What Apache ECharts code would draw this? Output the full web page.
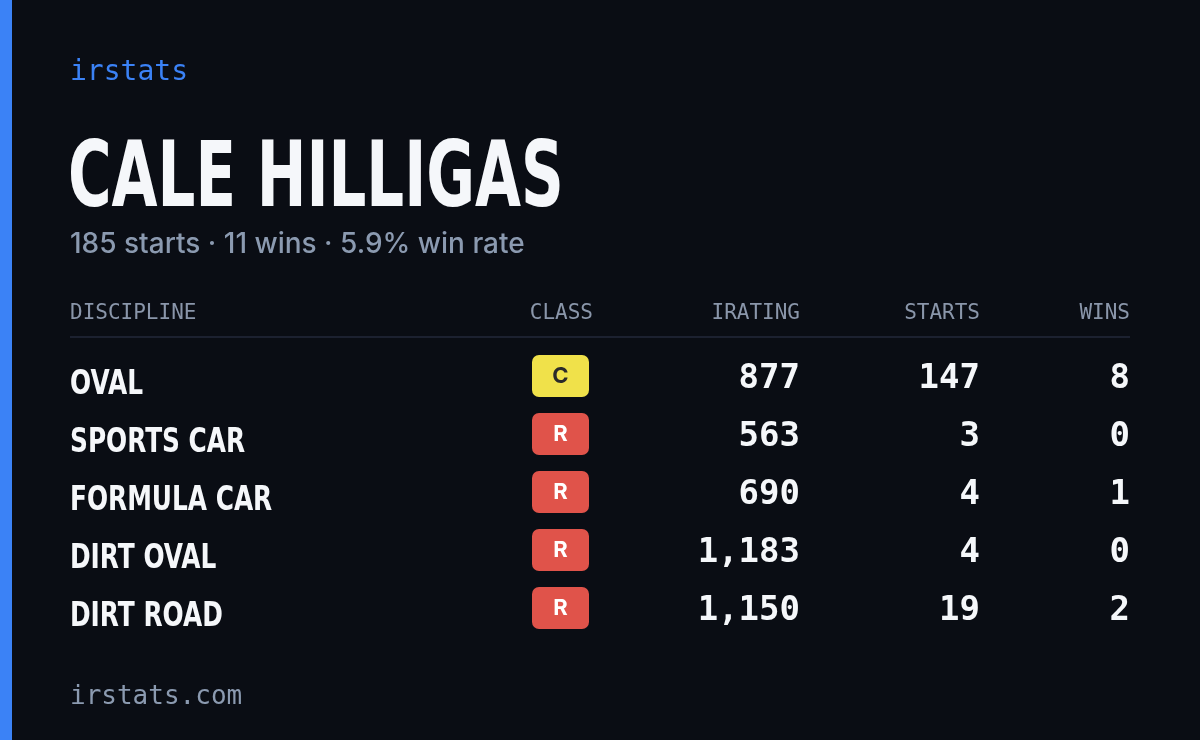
<!DOCTYPE html>
<html>
<head>
<meta charset="utf-8">
<script src="https://cdn.jsdelivr.net/npm/echarts@6/dist/echarts.min.js"></script>
<style>
  html, body { margin: 0; padding: 0; background: #0a0d14; }
  #main { width: 1200px; height: 740px; }
</style>
</head>
<body>
<div id="main"></div>
<script>
// 数据
var disciplines = ["OVAL", "SPORTS CAR", "FORMULA CAR", "DIRT OVAL", "DIRT ROAD"];
var classes = ["C", "R", "R", "R", "R"];
var iratings = [877, 563, 690, 1183, 1150];
var starts = [147, 3, 4, 4, 19];
var wins = [8, 0, 1, 0, 2];
var headers = ["DISCIPLINE", "CLASS", "IRATING", "STARTS", "WINS"];
// 生涯总计（含其它项目）
var totalStarts = 185;
var totalWins = 11;
var winRate = "5.9%";

var mono = "'DejaVu Sans Mono', monospace";
var sans = "'DejaVu Sans', sans-serif";
var classColor = { C: "#f0e14a", R: "#e0534a" };
var classText = { C: "#2a2a2a", R: "#ffffff" };

var subtitle = totalStarts + " starts · " + totalWins + " wins · " + winRate + " win rate";

var rows = [];
for (var i = 0; i < disciplines.length; i++) {
  rows.push([0, i]);
}

var myChart = echarts.init(document.getElementById("main"));

function renderRow(params, api) {
  var i = api.value(1);
  var y = api.coord([0, i])[1];
  var cls = classes[i];
  return {
    type: "group",
    children: [
      { type: "text", x: 70, y: y + 7, scaleX: 0.73,
        style: { x: 0, y: 0, text: disciplines[i], fill: "#f5f7fa",
          font: "bold 34px " + sans, textAlign: "left", textVerticalAlign: "middle" } },
      { type: "rect", shape: { x: 532, y: y - 23, width: 57, height: 42, r: 7 },
        style: { fill: classColor[cls] } },
      { type: "text", style: { x: 560.5, y: y - 2, text: cls, fill: classText[cls],
          font: "bold 22px 'Inter', sans-serif", textAlign: "center", textVerticalAlign: "middle" } },
      { type: "text", style: { x: 800, y: y + 1, text: iratings[i].toLocaleString("en-US"), fill: "#f5f7fa",
          font: "bold 34px " + mono, textAlign: "right", textVerticalAlign: "middle" } },
      { type: "text", style: { x: 980, y: y + 1, text: String(starts[i]), fill: "#f5f7fa",
          font: "bold 34px " + mono, textAlign: "right", textVerticalAlign: "middle" } },
      { type: "text", style: { x: 1130, y: y + 1, text: String(wins[i]), fill: "#f5f7fa",
          font: "bold 34px " + mono, textAlign: "right", textVerticalAlign: "middle" } }
    ]
  };
}

var headerX = [70, 593, 800, 980, 1130];
var headerAlign = ["left", "right", "right", "right", "right"];
var headerEls = headers.map(function (h, k) {
  return { type: "text", style: { x: headerX[k], y: 314, text: h, fill: "#8a96aa",
    font: "500 21px " + mono, textAlign: headerAlign[k], textVerticalAlign: "middle" } };
});

option = {
  backgroundColor: "#0a0d14",
  animation: false,
  grid: { left: 0, right: 0, top: 349, height: 290 },
  xAxis: { type: "value", min: 0, max: 1200, show: false },
  yAxis: { type: "category", data: disciplines, inverse: true, show: false },
  graphic: [
    { type: "rect", shape: { x: 0, y: 0, width: 12, height: 740 }, style: { fill: "#3b82f6" } },
    { type: "text", style: { x: 70, y: 73, text: "irstats", fill: "#3b82f6",
        font: "500 28px " + mono, textVerticalAlign: "middle" } },
    { type: "text", x: 68, y: 183, scaleX: 0.66,
      style: { x: 0, y: 0, text: "CALE HILLIGAS", fill: "#f5f7fa",
        font: "bold 90px " + sans, textVerticalAlign: "middle" } },
    { type: "text", style: { x: 70, y: 245, text: subtitle, fill: "#8b9ab0",
        font: "500 28px 'Inter', sans-serif", textVerticalAlign: "middle" } },
    { type: "line", shape: { x1: 70, y1: 337, x2: 1130, y2: 337 },
      style: { stroke: "#1c2130", lineWidth: 2 } },
    { type: "text", style: { x: 70, y: 697, text: "irstats.com", fill: "#8b9ab0",
        font: "500 26px " + mono, textVerticalAlign: "middle" } }
  ].concat(headerEls),
  series: [{
    type: "custom",
    renderItem: renderRow,
    data: rows,
    silent: true
  }]
};

myChart.setOption(option);
</script>
</body>
</html>
